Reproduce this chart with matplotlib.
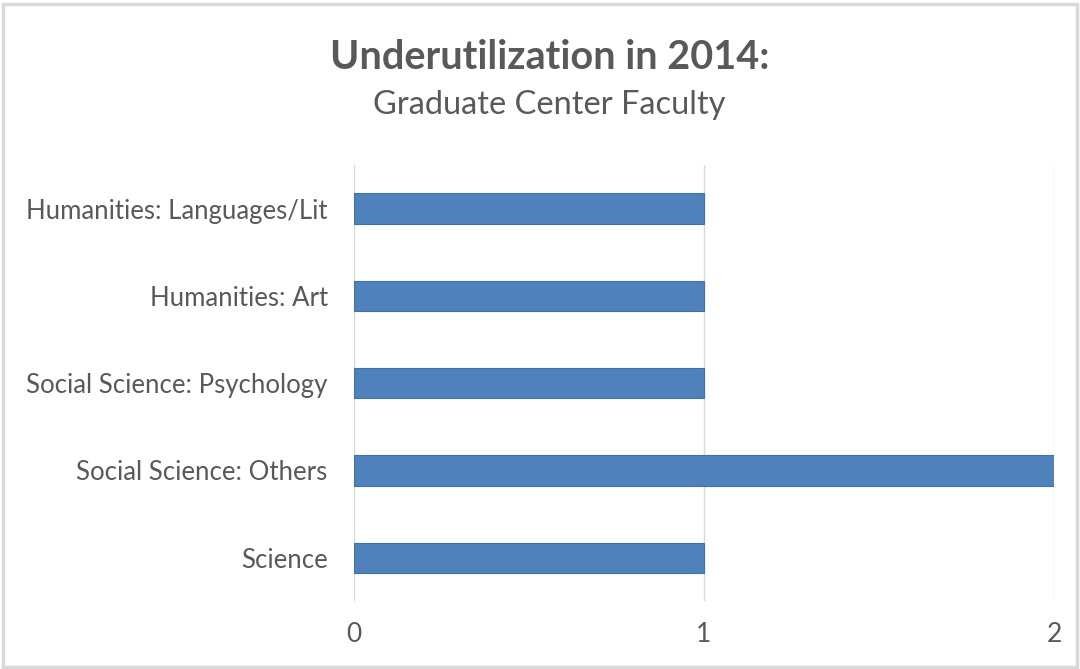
import matplotlib.pyplot as plt
from matplotlib.patches import Rectangle

categories = [
    "Science",
    "Social Science: Others",
    "Social Science: Psychology",
    "Humanities: Art",
    "Humanities: Languages/Lit",
]
values = [1, 2, 1, 1, 1]
x_ticks = [0, 1, 2]

plt.rcParams["font.family"] = ["Lato", "DejaVu Sans"]
text_color = "#595959"
bar_color = "#4F81BD"

fig = plt.figure(figsize=(10.8, 6.69), dpi=100)
ax = fig.add_axes([0.3278, 0.101, 0.9759 - 0.3278, 0.7534 - 0.101])

ax.barh(range(len(categories)), values, height=0.35, color=bar_color,
        edgecolor="#41719C", linewidth=0.8, zorder=3)
ax.set_xlim(0, 2)
ax.set_ylim(-0.5, len(categories) - 0.5)
ax.set_yticks(range(len(categories)))
ax.set_yticklabels(categories)
ax.set_xticks(x_ticks)
ax.set_xticklabels([str(t) for t in x_ticks])
ax.grid(axis="x", color="#D9D9D9", linewidth=1, zorder=0)
for s in ax.spines.values():
    s.set_visible(False)
ax.tick_params(axis="both", length=0, labelcolor=text_color)
ax.tick_params(axis="y", pad=19, labelsize=18.5)
ax.tick_params(axis="x", pad=15, labelsize=19)

fig.text(0.509, 0.914, "Underutilization in 2014:", ha="center", va="center",
         fontsize=28.5, fontweight="bold", color=text_color)
fig.text(0.509, 0.843, "Graduate Center Faculty", ha="center", va="center",
         fontsize=23.5, color=text_color)

fig.patches.append(Rectangle((0.003, 0.003), 0.994, 0.991, transform=fig.transFigure,
                             fill=False, edgecolor="#D9D9D9", linewidth=2.5))

fig.savefig("out.png", dpi=100)
